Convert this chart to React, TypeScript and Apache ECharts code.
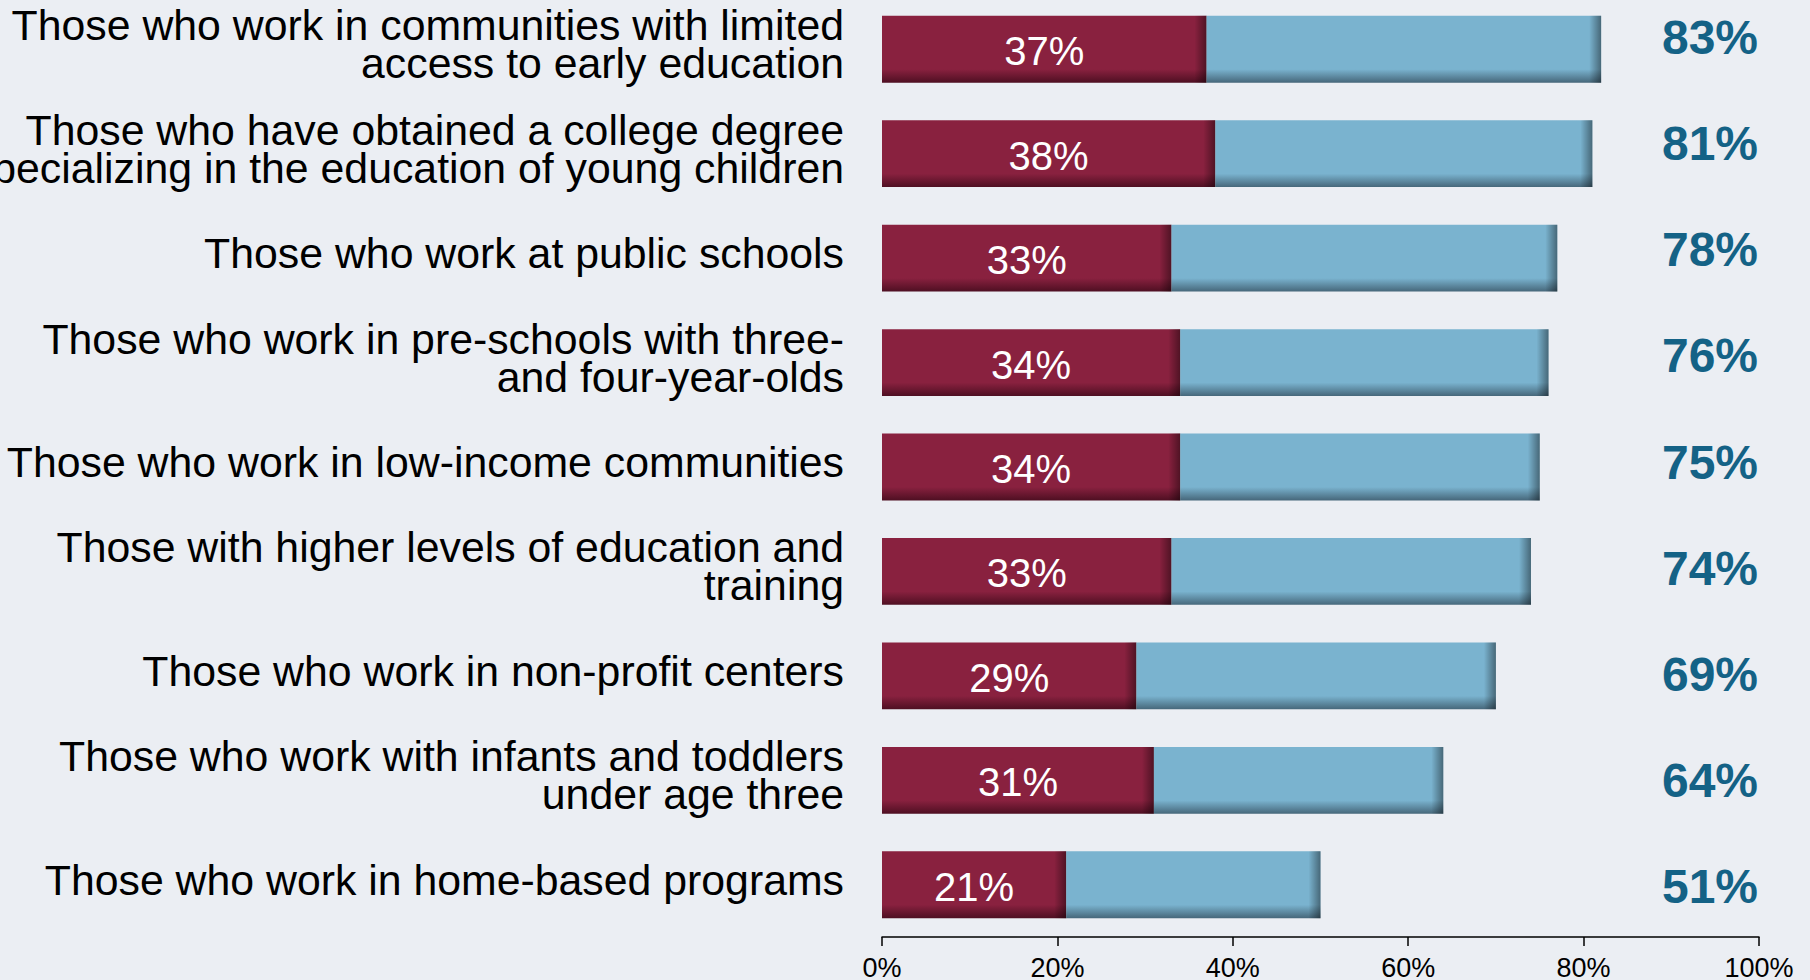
import React, { useEffect, useRef } from "react";
import * as echarts from "echarts";

const categories: string[] = [
  "Those who work in communities with limited\naccess to early education",
  "Those who have obtained a college degree\nspecializing in the education of young children",
  "Those who work at public schools",
  "Those who work in pre-schools with three-\nand four-year-olds",
  "Those who work in low-income communities",
  "Those with higher levels of education and\ntraining",
  "Those who work in non-profit centers",
  "Those who work with infants and toddlers\nunder age three",
  "Those who work in home-based programs",
];

// dark red segment (values shown inside the bars)
const redValues: number[] = [37, 38, 33, 34, 34, 33, 29, 31, 21];
// where the light blue bar ends
const totalEnds: number[] = [82, 81, 77, 76, 75, 74, 70, 64, 50];
// totals printed to the right of each bar
const totalLabels: string[] = ["83%", "81%", "78%", "76%", "75%", "74%", "69%", "64%", "51%"];

const xTicks: number[] = [0, 20, 40, 60, 80, 100];

const RED = "#89213F";
const RED_DARK = "#4E0F22";
const BLUE = "#7AB3CF";
const BLUE_DARK = "#46677A";
const BG = "#EBEEF3";
const FONT = "Liberation Sans, Arial, sans-serif";

export default function App() {
  const ref = useRef<HTMLDivElement>(null);

  useEffect(() => {
    if (!ref.current) return;
    const chart = echarts.init(ref.current, null, { renderer: "svg" });

    const vgrad = (c: string, d: string) =>
      new echarts.graphic.LinearGradient(0, 0, 0, 1, [
        { offset: 0, color: c },
        { offset: 0.8, color: c },
        { offset: 1, color: d },
      ]);

    const blueSeg = totalEnds.map((t, i) => t - redValues[i]);

    const edgeData: number[][] = [];
    redValues.forEach((v, i) => edgeData.push([v, i, 0]));
    totalEnds.forEach((v, i) => edgeData.push([v, i, 1]));

    const option: any = {
      animation: false,
      backgroundColor: BG,
      textStyle: { fontFamily: FONT },
      grid: [
        { left: 882, width: 877, top: -3, height: 940, containLabel: false, outerBoundsMode: "none" },
        { left: 1600, width: 220, top: -16, height: 956, containLabel: false, outerBoundsMode: "none" },
        { left: 882, width: 877, top: -8, height: 940, containLabel: false, outerBoundsMode: "none" },
      ],
      xAxis: [
        {
          type: "value",
          gridIndex: 0,
          min: 0,
          max: 100,
          interval: 20,
          splitLine: { show: false },
          axisLine: { show: true, lineStyle: { color: "#000", width: 1.5 } },
          axisTick: { show: true, length: 9, lineStyle: { color: "#000", width: 1.5 } },
          axisLabel: {
            color: "#000",
            fontSize: 27,
            fontFamily: FONT,
            margin: 17,
            formatter: (v: number) => (xTicks.includes(v) ? v + "%" : ""),
          },
        },
        { type: "value", gridIndex: 1, min: 0, max: 1, show: false },
        { type: "value", gridIndex: 2, min: 0, max: 100, show: false },
      ],
      yAxis: [
        {
          type: "category",
          gridIndex: 0,
          inverse: true,
          data: categories,
          axisLine: { show: false },
          axisTick: { show: false },
          axisLabel: { show: false },
        },
        {
          type: "category",
          gridIndex: 1,
          inverse: true,
          data: categories,
          show: false,
        },
        {
          type: "category",
          gridIndex: 2,
          inverse: true,
          data: categories,
          axisLine: { show: false },
          axisTick: { show: false },
          splitLine: { show: false },
          axisLabel: {
            show: true,
            interval: 0,
            hideOverlap: false,
            color: "#000",
            fontSize: 42.8,
            lineHeight: 38,
            fontFamily: FONT,
            margin: 38,
            align: "right",
          },
        },
      ],
      series: [
        {
          type: "bar",
          name: "red",
          stack: "s",
          xAxisIndex: 0,
          yAxisIndex: 0,
          barWidth: "64%",
          data: redValues,
          itemStyle: { color: vgrad(RED, RED_DARK) },
          label: {
            show: true,
            position: "inside",
            offset: [0, 2],
            color: "#fff",
            fontSize: 40,
            fontFamily: FONT,
            formatter: (p: any) => p.value + "%",
          },
        },
        {
          type: "bar",
          name: "blue",
          stack: "s",
          xAxisIndex: 0,
          yAxisIndex: 0,
          barWidth: "64%",
          data: blueSeg,
          itemStyle: { color: vgrad(BLUE, BLUE_DARK) },
        },
        {
          type: "custom",
          name: "edges",
          xAxisIndex: 0,
          yAxisIndex: 0,
          data: edgeData,
          silent: true,
          z: 5,
          renderItem: (params: any, api: any) => {
            const end = api.coord([api.value(0), api.value(1)]);
            const h = api.size([0, 1])[1] * 0.64;
            const w = 12;
            return {
              type: "rect",
              shape: { x: end[0] - w, y: end[1] - h / 2, width: w, height: h },
              style: {
                fill: new echarts.graphic.LinearGradient(0, 0, 1, 0, [
                  { offset: 0, color: "rgba(0,0,0,0)" },
                  { offset: 1, color: "rgba(0,0,0,0.42)" },
                ]),
              },
            };
          },
        },
        {
          type: "scatter",
          name: "totals",
          xAxisIndex: 1,
          yAxisIndex: 1,
          symbolSize: 1,
          itemStyle: { color: "rgba(0,0,0,0)", opacity: 1 },
          data: totalLabels.map((_, i) => [0.5, i]),
          label: {
            show: true,
            position: "inside",
            color: "#146286",
            opacity: 1,
            fontSize: 48,
            fontWeight: "bold",
            fontFamily: FONT,
            formatter: (p: any) => totalLabels[p.dataIndex],
          },
        },
      ],
    };

    chart.setOption(option);
    return () => chart.dispose();
  }, []);

  return (
    <div
      ref={ref}
      style={{ position: "fixed", left: 0, top: 0, width: 1810, height: 980 }}
    />
  );
}
